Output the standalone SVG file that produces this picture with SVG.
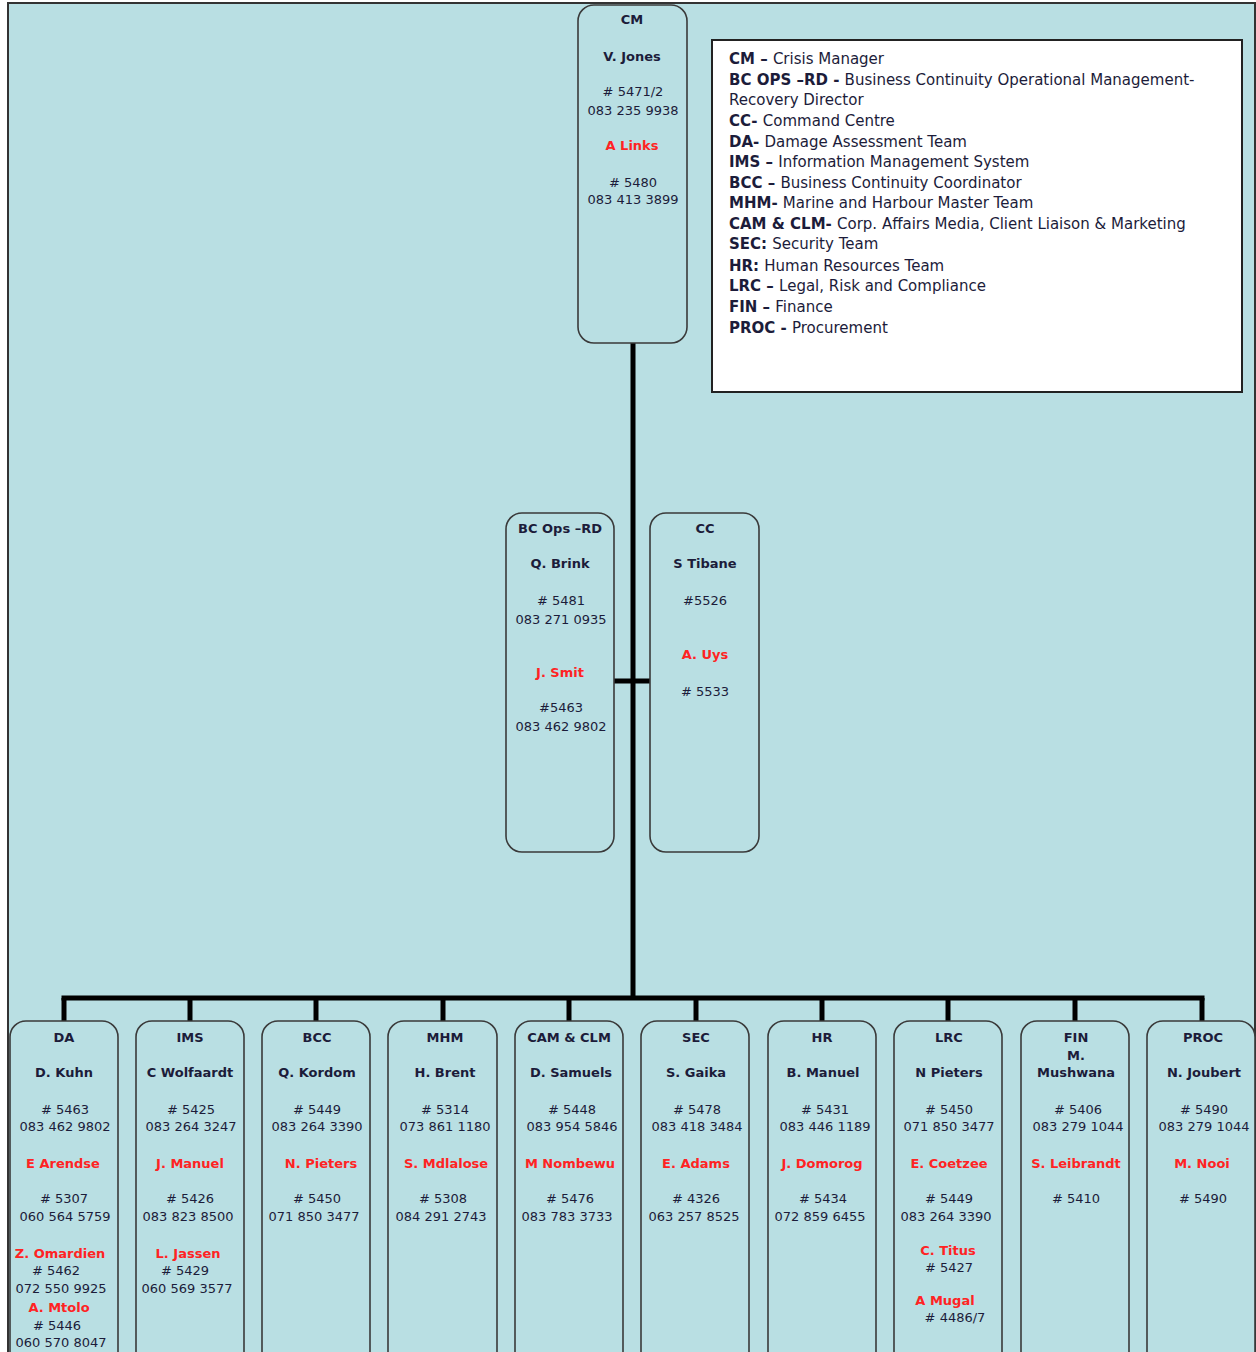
<svg xmlns="http://www.w3.org/2000/svg" width="1256" height="1352" viewBox="0 0 1256 1352">
<style>
.t{font-family:"DejaVu Sans",Verdana,sans-serif;font-size:13px;text-anchor:middle;fill:#1c1c3a}
.b{font-weight:bold}
.r{fill:#ff2323;font-weight:bold}
.box{fill:#b9dfe3;stroke:#3a3a3a;stroke-width:1.6}
.ln{stroke:#000;stroke-width:5;fill:none}
.lg{font-family:"DejaVu Sans",Verdana,sans-serif;font-size:15px;fill:#1c1c3a}
</style>
<rect x="0" y="0" width="1256" height="1352" fill="#fff"/>
<rect x="8" y="3" width="1247" height="1365" fill="#b9dfe3" stroke="#333" stroke-width="2"/>
<g id="connectors">
<line class="ln" x1="633" y1="343" x2="633" y2="1000"/>
<line class="ln" x1="614" y1="681" x2="650" y2="681"/>
<line class="ln" x1="61.5" y1="998" x2="1204.5" y2="998"/>
<line class="ln" x1="64" y1="998" x2="64" y2="1021"/>
<line class="ln" x1="190" y1="998" x2="190" y2="1021"/>
<line class="ln" x1="316" y1="998" x2="316" y2="1021"/>
<line class="ln" x1="443" y1="998" x2="443" y2="1021"/>
<line class="ln" x1="569" y1="998" x2="569" y2="1021"/>
<line class="ln" x1="696" y1="998" x2="696" y2="1021"/>
<line class="ln" x1="822" y1="998" x2="822" y2="1021"/>
<line class="ln" x1="948" y1="998" x2="948" y2="1021"/>
<line class="ln" x1="1075" y1="998" x2="1075" y2="1021"/>
<line class="ln" x1="1202" y1="998" x2="1202" y2="1021"/>
</g>
<g id="legend">
<rect x="712" y="40" width="530" height="352" fill="#fff" stroke="#222" stroke-width="2"/>
<text class="lg" x="729" y="64"><tspan font-weight="bold">CM – </tspan>Crisis Manager</text>
<text class="lg" x="729" y="85"><tspan font-weight="bold">BC OPS –RD - </tspan>Business Continuity Operational Management-</text>
<text class="lg" x="729" y="105">Recovery Director</text>
<text class="lg" x="729" y="126"><tspan font-weight="bold">CC- </tspan>Command Centre</text>
<text class="lg" x="729" y="147"><tspan font-weight="bold">DA- </tspan>Damage Assessment Team</text>
<text class="lg" x="729" y="167"><tspan font-weight="bold">IMS – </tspan>Information Management System</text>
<text class="lg" x="729" y="188"><tspan font-weight="bold">BCC – </tspan>Business Continuity Coordinator</text>
<text class="lg" x="729" y="208"><tspan font-weight="bold">MHM- </tspan>Marine and Harbour Master Team</text>
<text class="lg" x="729" y="229"><tspan font-weight="bold">CAM &amp; CLM- </tspan>Corp. Affairs Media, Client Liaison &amp; Marketing</text>
<text class="lg" x="729" y="249"><tspan font-weight="bold">SEC:  </tspan>Security Team</text>
<text class="lg" x="729" y="271"><tspan font-weight="bold">HR: </tspan>Human Resources Team</text>
<text class="lg" x="729" y="291"><tspan font-weight="bold">LRC – </tspan>Legal, Risk and Compliance</text>
<text class="lg" x="729" y="312"><tspan font-weight="bold">FIN – </tspan>Finance</text>
<text class="lg" x="729" y="333"><tspan font-weight="bold">PROC - </tspan>Procurement</text>
</g>
<g id="cm">
<rect class="box" x="578" y="5" width="109" height="338" rx="16"/>
<text class="t b" x="632" y="24">CM</text>
<text class="t b" x="632" y="61">V. Jones</text>
<text class="t" x="633" y="96"># 5471/2</text>
<text class="t" x="633" y="115">083 235 9938</text>
<text class="t r" x="632" y="150">A Links</text>
<text class="t" x="633" y="187"># 5480</text>
<text class="t" x="633" y="204">083 413 3899</text>
</g>
<g id="bcops">
<rect class="box" x="506" y="513" width="108" height="339" rx="16"/>
<text class="t b" x="560" y="533">BC Ops –RD</text>
<text class="t b" x="560" y="568">Q. Brink</text>
<text class="t" x="561" y="605"># 5481</text>
<text class="t" x="561" y="624">083 271 0935</text>
<text class="t r" x="560" y="677">J. Smit</text>
<text class="t" x="561" y="712">#5463</text>
<text class="t" x="561" y="731">083 462 9802</text>
</g>
<g id="cc">
<rect class="box" x="650" y="513" width="109" height="339" rx="16"/>
<text class="t b" x="705" y="533">CC</text>
<text class="t b" x="705" y="568">S Tibane</text>
<text class="t" x="705" y="605">#5526</text>
<text class="t r" x="705" y="659">A. Uys</text>
<text class="t" x="705" y="696"># 5533</text>
</g>
<g id="da">
<rect class="box" x="10" y="1021" width="108" height="360" rx="16"/>
<text class="t b" x="64" y="1042">DA</text>
<text class="t b" x="64" y="1077">D. Kuhn</text>
<text class="t" x="65" y="1114"># 5463</text>
<text class="t" x="65" y="1131">083 462 9802</text>
<text class="t r" x="63" y="1168">E Arendse</text>
<text class="t" x="64" y="1203"># 5307</text>
<text class="t" x="65" y="1221">060 564 5759</text>
<text class="t r" x="60" y="1258">Z. Omardien</text>
<text class="t" x="56" y="1275"># 5462</text>
<text class="t" x="61" y="1293">072 550 9925</text>
<text class="t r" x="59" y="1312">A. Mtolo</text>
<text class="t" x="57" y="1330"># 5446</text>
<text class="t" x="61" y="1347">060 570 8047</text>
</g>
<g id="ims">
<rect class="box" x="136" y="1021" width="108" height="360" rx="16"/>
<text class="t b" x="190" y="1042">IMS</text>
<text class="t b" x="190" y="1077">C Wolfaardt</text>
<text class="t" x="191" y="1114"># 5425</text>
<text class="t" x="191" y="1131">083 264 3247</text>
<text class="t r" x="190" y="1168">J. Manuel</text>
<text class="t" x="190" y="1203"># 5426</text>
<text class="t" x="188" y="1221">083 823 8500</text>
<text class="t r" x="188" y="1258">L. Jassen</text>
<text class="t" x="185" y="1275"># 5429</text>
<text class="t" x="187" y="1293">060 569 3577</text>
</g>
<g id="bcc">
<rect class="box" x="262" y="1021" width="108" height="360" rx="16"/>
<text class="t b" x="317" y="1042">BCC</text>
<text class="t b" x="317" y="1077">Q. Kordom</text>
<text class="t" x="317" y="1114"># 5449</text>
<text class="t" x="317" y="1131">083 264 3390</text>
<text class="t r" x="321" y="1168">N. Pieters</text>
<text class="t" x="317" y="1203"># 5450</text>
<text class="t" x="314" y="1221">071 850 3477</text>
</g>
<g id="mhm">
<rect class="box" x="388" y="1021" width="109" height="360" rx="16"/>
<text class="t b" x="445" y="1042">MHM</text>
<text class="t b" x="445" y="1077">H. Brent</text>
<text class="t" x="445" y="1114"># 5314</text>
<text class="t" x="445" y="1131">073 861 1180</text>
<text class="t r" x="446" y="1168">S. Mdlalose</text>
<text class="t" x="443" y="1203"># 5308</text>
<text class="t" x="441" y="1221">084 291 2743</text>
</g>
<g id="cam">
<rect class="box" x="515" y="1021" width="108" height="360" rx="16"/>
<text class="t b" x="569" y="1042">CAM &amp; CLM</text>
<text class="t b" x="571" y="1077">D. Samuels</text>
<text class="t" x="572" y="1114"># 5448</text>
<text class="t" x="572" y="1131">083 954 5846</text>
<text class="t r" x="570" y="1168">M Nombewu</text>
<text class="t" x="570" y="1203"># 5476</text>
<text class="t" x="567" y="1221">083 783 3733</text>
</g>
<g id="sec">
<rect class="box" x="641" y="1021" width="108" height="360" rx="16"/>
<text class="t b" x="696" y="1042">SEC</text>
<text class="t b" x="696" y="1077">S. Gaika</text>
<text class="t" x="697" y="1114"># 5478</text>
<text class="t" x="697" y="1131">083 418 3484</text>
<text class="t r" x="696" y="1168">E. Adams</text>
<text class="t" x="696" y="1203"># 4326</text>
<text class="t" x="694" y="1221">063 257 8525</text>
</g>
<g id="hr">
<rect class="box" x="768" y="1021" width="108" height="360" rx="16"/>
<text class="t b" x="822" y="1042">HR</text>
<text class="t b" x="823" y="1077">B. Manuel</text>
<text class="t" x="825" y="1114"># 5431</text>
<text class="t" x="825" y="1131">083 446 1189</text>
<text class="t r" x="822" y="1168">J. Domorog</text>
<text class="t" x="823" y="1203"># 5434</text>
<text class="t" x="820" y="1221">072 859 6455</text>
</g>
<g id="lrc">
<rect class="box" x="894" y="1021" width="108" height="360" rx="16"/>
<text class="t b" x="949" y="1042">LRC</text>
<text class="t b" x="949" y="1077">N Pieters</text>
<text class="t" x="949" y="1114"># 5450</text>
<text class="t" x="949" y="1131">071 850 3477</text>
<text class="t r" x="949" y="1168">E. Coetzee</text>
<text class="t" x="949" y="1203"># 5449</text>
<text class="t" x="946" y="1221">083 264 3390</text>
<text class="t r" x="948" y="1255">C. Titus</text>
<text class="t" x="949" y="1272"># 5427</text>
<text class="t r" x="945" y="1305">A Mugal</text>
<text class="t" x="955" y="1322"># 4486/7</text>
</g>
<g id="fin">
<rect class="box" x="1021" y="1021" width="108" height="360" rx="16"/>
<text class="t b" x="1076" y="1042">FIN</text>
<text class="t b" x="1076" y="1060">M.</text>
<text class="t b" x="1076" y="1077">Mushwana</text>
<text class="t" x="1078" y="1114"># 5406</text>
<text class="t" x="1078" y="1131">083 279 1044</text>
<text class="t r" x="1076" y="1168">S. Leibrandt</text>
<text class="t" x="1076" y="1203"># 5410</text>
</g>
<g id="proc">
<rect class="box" x="1147" y="1021" width="108" height="360" rx="16"/>
<text class="t b" x="1203" y="1042">PROC</text>
<text class="t b" x="1204" y="1077">N. Joubert</text>
<text class="t" x="1204" y="1114"># 5490</text>
<text class="t" x="1204" y="1131">083 279 1044</text>
<text class="t r" x="1202" y="1168">M. Nooi</text>
<text class="t" x="1203" y="1203"># 5490</text>
</g>
</svg>
